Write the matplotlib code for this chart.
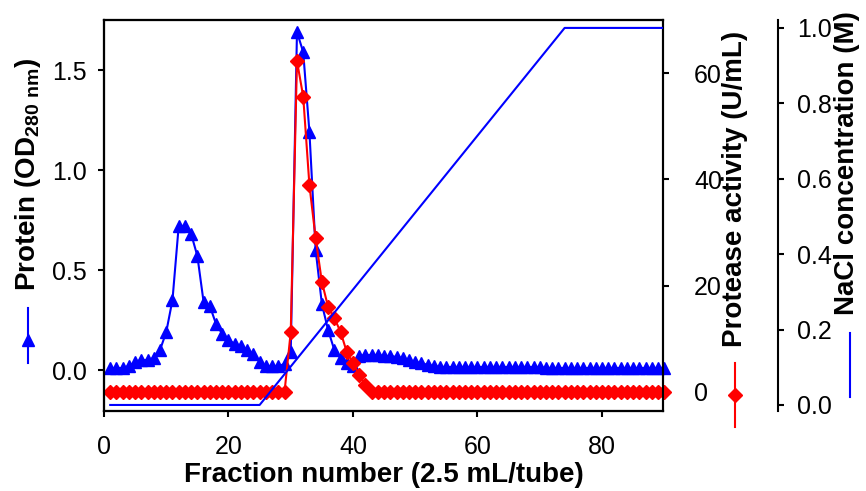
import matplotlib
matplotlib.use('Agg')
import matplotlib.pyplot as plt
from matplotlib.lines import Line2D

plt.rcParams['font.family'] = ['Liberation Sans', 'DejaVu Sans']
plt.rcParams['mathtext.fontset'] = 'custom'
plt.rcParams['mathtext.rm'] = 'Liberation Sans'
plt.rcParams['mathtext.bf'] = 'Liberation Sans:bold'

# fraction numbers 1..90
fractions = list(range(1, 91))

# protein, OD280
protein = [0.01, 0.01, 0.01, 0.02, 0.04, 0.05, 0.05, 0.06, 0.10, 0.19,
           0.35, 0.72, 0.72, 0.68, 0.57, 0.34, 0.32, 0.23, 0.18, 0.15,
           0.13, 0.12, 0.10, 0.08, 0.04, 0.02, 0.02, 0.02, 0.03, 0.09,
           1.69, 1.59, 1.19, 0.60, 0.33, 0.20, 0.10, 0.06, 0.035, 0.02,
           0.07, 0.075, 0.075, 0.075, 0.07, 0.07, 0.065, 0.06, 0.05, 0.04,
           0.035, 0.025, 0.02, 0.015, 0.015, 0.015, 0.015, 0.015, 0.015, 0.015,
           0.015, 0.015, 0.015, 0.015, 0.015, 0.015, 0.015, 0.015, 0.015, 0.015,
           0.01, 0.01, 0.01, 0.01, 0.01, 0.01, 0.01, 0.01, 0.01, 0.01,
           0.01, 0.01, 0.01, 0.01, 0.01, 0.01, 0.01, 0.01, 0.01, 0.01]

# protease activity, U/mL
activity = [0, 0, 0, 0, 0, 0, 0, 0, 0, 0,
            0, 0, 0, 0, 0, 0, 0, 0, 0, 0,
            0, 0, 0, 0, 0, 0, 0, 0, 0, 11.3,
            62.3, 55.6, 38.9, 28.9, 20.7, 16.0, 13.9, 11.3, 7.5, 5.4,
            3.2, 1.3, 0, 0, 0, 0, 0, 0, 0, 0,
            0, 0, 0, 0, 0, 0, 0, 0, 0, 0,
            0, 0, 0, 0, 0, 0, 0, 0, 0, 0,
            0, 0, 0, 0, 0, 0, 0, 0, 0, 0,
            0, 0, 0, 0, 0, 0, 0, 0, 0, 0]

# NaCl gradient
nacl_fraction = [1, 25, 74, 90]
nacl_conc = [0.0, 0.0, 1.0, 1.0]

fig = plt.figure(figsize=(8.66, 4.91), dpi=100)
ax = fig.add_axes([104/866, 1 - 411/491, 559/866, 391/491])
ax2 = ax.twinx()
ax3 = ax.twinx()

ax.plot(fractions, protein, color='blue', lw=1.5, marker='^', ms=9, clip_on=False)
ax2.plot(fractions, activity, color='red', lw=1.5, marker='D', ms=7, clip_on=False)
ax3.plot(nacl_fraction, nacl_conc, color='blue', lw=1.5)

ax.set_xlim(0, 89.8)
ax.set_ylim(-0.205, 1.75)
ax2.set_ylim(-3.6, 70)
ax3.set_ylim(-0.016, 1.021)

ax.set_xticks([0, 20, 40, 60, 80])
ax.set_yticks([0.0, 0.5, 1.0, 1.5])
ax2.set_yticks([0, 20, 40, 60])
ax3.set_yticks([0.0, 0.2, 0.4, 0.6, 0.8, 1.0])
ax3.spines['right'].set_position(('axes', 1.206))

for a in (ax, ax2, ax3):
    for s in a.spines.values():
        s.set_linewidth(1.5)
    a.tick_params(direction='out', length=4.5, width=1.5, labelsize=18)
ax.tick_params(axis='x', pad=13)
ax.tick_params(axis='y', pad=8)
ax2.tick_params(axis='y', pad=18)
ax3.tick_params(axis='y', pad=9)

ax.set_xlabel('Fraction number (2.5 mL/tube)', fontsize=20, fontweight='bold', labelpad=2)
ax.set_ylabel(r'Protein (OD$_{\mathbf{280\ nm}}$)', fontsize=20, fontweight='bold')
ax.yaxis.set_label_coords(-0.136, 0.605)
ax2.set_ylabel('Protease activity (U/mL)', fontsize=20, fontweight='bold')
ax2.yaxis.set_label_coords(1.129, 0.568)
ax3.set_ylabel('NaCl concentration (M)', fontsize=20, fontweight='bold')
ax3.yaxis.set_label_coords(1.33, 0.634)
for a in (ax, ax2, ax3):
    a.yaxis.label.set_va('center')

# small series symbols under the axis titles
tr = ax.transAxes
ax.add_line(Line2D([-0.136, -0.136], [0.123, 0.263], color='blue', lw=1.5, transform=tr, clip_on=False))
ax.add_line(Line2D([-0.136], [0.182], color='blue', marker='^', ms=9, transform=tr, clip_on=False))
ax.add_line(Line2D([1.129, 1.129], [-0.041, 0.123], color='red', lw=1.5, transform=tr, clip_on=False))
ax.add_line(Line2D([1.129], [0.041], color='red', marker='D', ms=7, transform=tr, clip_on=False))
ax.add_line(Line2D([1.335, 1.335], [0.036, 0.199], color='blue', lw=1.5, transform=tr, clip_on=False))

fig.savefig('out.png', dpi=100)
